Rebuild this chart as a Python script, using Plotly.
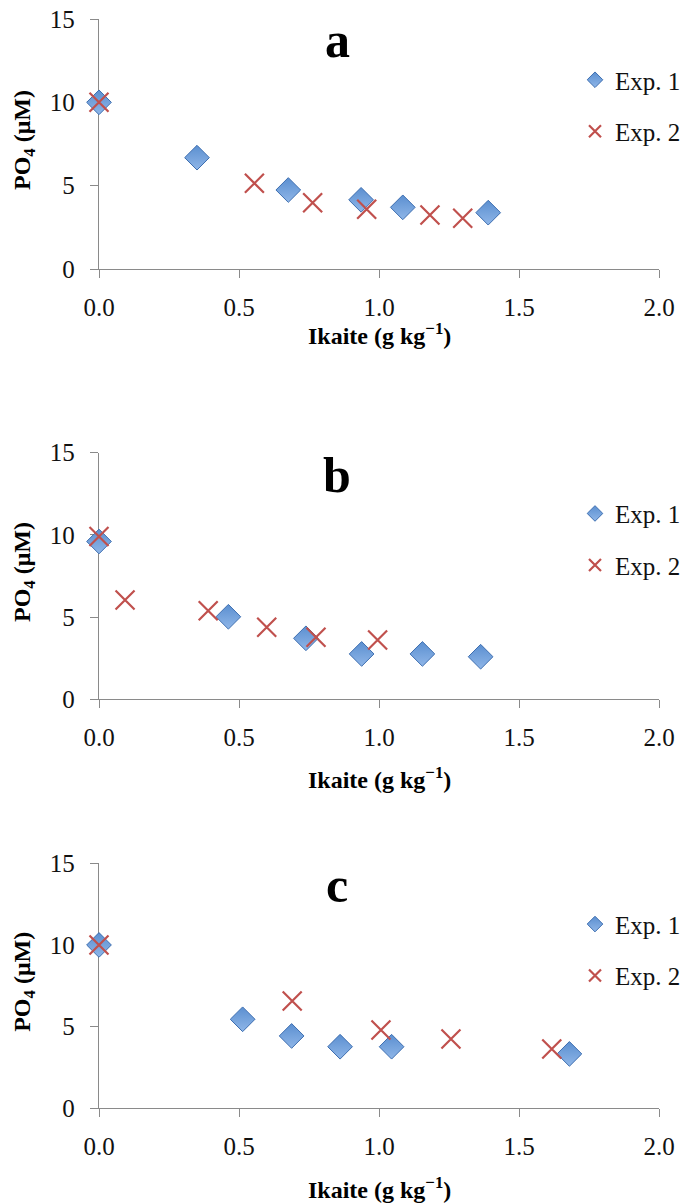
import plotly.graph_objects as go

# Ikaite addition (g kg-1) vs dissolved phosphate (uM), three experiment sets
a_exp1_x = [0.0, 0.35, 0.676, 0.936, 1.085, 1.39]
a_exp1_y = [10.0, 6.68, 4.74, 4.15, 3.70, 3.38]
a_exp2_x = [0.0, 0.555, 0.763, 0.956, 1.182, 1.299]
a_exp2_y = [10.0, 5.14, 3.98, 3.58, 3.24, 3.04]

b_exp1_x = [0.0, 0.462, 0.739, 0.938, 1.155, 1.363]
b_exp1_y = [9.6, 5.02, 3.71, 2.76, 2.76, 2.59]
b_exp2_x = [0.0, 0.093, 0.39, 0.599, 0.775, 0.995]
b_exp2_y = [9.9, 6.04, 5.39, 4.38, 3.77, 3.61]

c_exp1_x = [0.0, 0.513, 0.688, 0.861, 1.045, 1.68]
c_exp1_y = [10.0, 5.45, 4.43, 3.77, 3.77, 3.33]
c_exp2_x = [0.0, 0.69, 1.007, 1.257, 1.617]
c_exp2_y = [10.0, 6.57, 4.79, 4.24, 3.63]

panel_letters = ["a", "b", "c"]
series_names = ["Exp. 1", "Exp. 2"]
x_ticks = [0.0, 0.5, 1.0, 1.5, 2.0]
y_ticks = [0, 5, 10, 15]

W, H = 681, 1204
FONT = "Liberation Serif"
BLUE = "#5b8fd0"
BLUE_DARK = "#3d6eb0"
RED = "#c0504d"
AXIS = "#8a8a8a"

# plot areas in pixels: (left, right, top, bottom)
plot_boxes = [(99, 659, 19, 269), (99, 659, 452.7, 699.3), (99, 659, 863.3, 1108.3)]
xtitle_y = [334, 778, 1188]
letter_y = [40, 475, 885]

panels = [
    (a_exp1_x, a_exp1_y, a_exp2_x, a_exp2_y),
    (b_exp1_x, b_exp1_y, b_exp2_x, b_exp2_y),
    (c_exp1_x, c_exp1_y, c_exp2_x, c_exp2_y),
]

fig = go.Figure()
annotations = []
layout = dict(
    width=W, height=H,
    margin=dict(l=0, r=0, t=0, b=0, autoexpand=False),
    paper_bgcolor="white", plot_bgcolor="white",
    font=dict(family=FONT, size=25, color="#111111"),
)


def px_x(v):
    return v / W


def px_y(v):
    return 1 - v / H


for i, (x1, y1, x2, y2) in enumerate(panels):
    n = "" if i == 0 else str(i + 1)
    xa, ya = "x" + n, "y" + n
    leg = "legend" + n
    diamond = dict(symbol="diamond", size=19, color=BLUE,
                   gradient=dict(type="vertical", color="#8fb6e8"),
                   line=dict(color=BLUE_DARK, width=1))
    cross = dict(symbol="x-thin", size=19, line=dict(color=RED, width=2.2), color=RED)

    fig.add_trace(go.Scatter(x=x1, y=y1, mode="markers", marker=diamond, xaxis=xa, yaxis=ya,
                             cliponaxis=False, showlegend=False))
    fig.add_trace(go.Scatter(x=x2, y=y2, mode="markers", marker=cross, xaxis=xa, yaxis=ya,
                             cliponaxis=False, showlegend=False))
    # legend entries with smaller symbols
    fig.add_trace(go.Scatter(x=[None], y=[None], mode="markers", name=series_names[0],
                             marker=dict(diamond, size=12), xaxis=xa, yaxis=ya,
                             legend=leg, legendgroup="e1" + n))
    fig.add_trace(go.Scatter(x=[None], y=[None], mode="markers", name=series_names[1],
                             marker=dict(cross, size=12), xaxis=xa, yaxis=ya,
                             legend=leg, legendgroup="e2" + n))

    l, r, t, b = plot_boxes[i]
    axis_common = dict(showline=True, linecolor=AXIS, linewidth=1.3, ticks="outside",
                       ticklen=8, tickcolor=AXIS, tickwidth=1.3, showgrid=False,
                       zeroline=False, layer="below traces", automargin=False,
                       tickfont=dict(family=FONT, size=25, color="#111111"))
    layout["xaxis" + n] = dict(axis_common, domain=[px_x(l), px_x(r)], range=[0, 2],
                               tickvals=x_ticks, tickformat=".1f", anchor=ya,
                               ticklabelstandoff=8)
    layout["yaxis" + n] = dict(axis_common, domain=[px_y(b), px_y(t)], range=[0, 15],
                               tickvals=y_ticks, anchor=xa, ticklabelstandoff=10)
    layout[leg] = dict(x=px_x(575), y=px_y(t + 38), xanchor="left", yanchor="top",
                       bgcolor="rgba(0,0,0,0)", traceorder="grouped", tracegroupgap=16,
                       font=dict(family=FONT, size=25, color="#111111"))

    annotations.append(dict(text="<b>%s</b>" % panel_letters[i], x=px_x(337), y=px_y(letter_y[i]),
                            xref="paper", yref="paper", showarrow=False, xanchor="center",
                            yanchor="middle", font=dict(family=FONT, size=50, color="#000000")))
    annotations.append(dict(text="<b>PO<sub>4</sub> (μM)</b>", x=px_x(24), y=px_y((t + b) / 2 - 4),
                            xref="paper", yref="paper", showarrow=False, textangle=-90,
                            xanchor="center", yanchor="middle",
                            font=dict(family=FONT, size=24, color="#000000")))
    annotations.append(dict(text="<b>Ikaite (g kg<sup>−1</sup>)</b>", x=px_x((l + r) / 2),
                            y=px_y(xtitle_y[i]), xref="paper", yref="paper", showarrow=False,
                            xanchor="center", yanchor="middle",
                            font=dict(family=FONT, size=24, color="#000000")))

layout["annotations"] = annotations
fig.update_layout(**layout)
fig.write_html("out.html")
